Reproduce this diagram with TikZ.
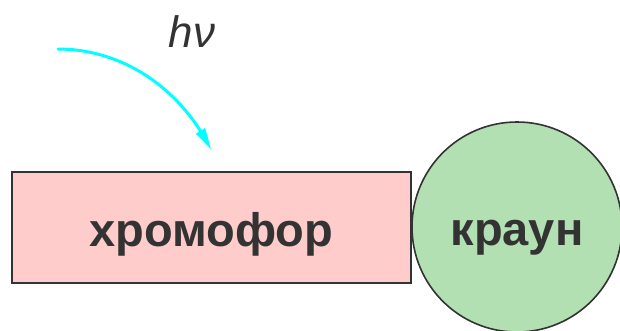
\documentclass[tikz,border=0pt]{standalone}
\usepackage{fontspec}
\setmainfont{Liberation Sans}
\usetikzlibrary{arrows.meta,bending}
\definecolor{txtgray}{HTML}{333333}
\definecolor{pinkfill}{HTML}{FFCCCC}
\definecolor{greenfill}{HTML}{B3E0B3}
\definecolor{arrowcyan}{HTML}{00FFFF}
\tikzset{
  box/.style={draw=txtgray, line width=1.6pt, fill=pinkfill, minimum width=399pt, minimum height=111pt, inner sep=0pt,
    font=\fontsize{47}{51}\selectfont\bfseries, text=txtgray, text height=37pt, text depth=0pt},
  ring/.style={draw=txtgray, line width=1.6pt, fill=greenfill, circle, minimum size=210pt, inner sep=0pt,
    font=\fontsize{47}{51}\selectfont\bfseries, text=txtgray, text height=37pt, text depth=0pt},
  photon/.style={draw=arrowcyan, line width=3pt, line cap=round, -{Triangle[length=22pt,width=10pt,bend]}},
  hnu/.style={font=\fontsize{44}{48}\selectfont\itshape, text=txtgray, inner sep=0pt}
}
\begin{document}
\begin{tikzpicture}[x=1pt,y=-1pt]
\useasboundingbox (0,0) rectangle (620,330);
\node[box] (chrom) at (211.5,227.5) {хромофор};
\node[ring] (crown) at (517,227) {краун};
\node[hnu, anchor=base] (hv) at (192,47) {hν};
\coordinate (a0) at (58,49);
\coordinate (a1) at (211,150);
\draw[photon] (a0) .. controls (124,49) and (182,90) .. (a1);
\end{tikzpicture}
\end{document}
